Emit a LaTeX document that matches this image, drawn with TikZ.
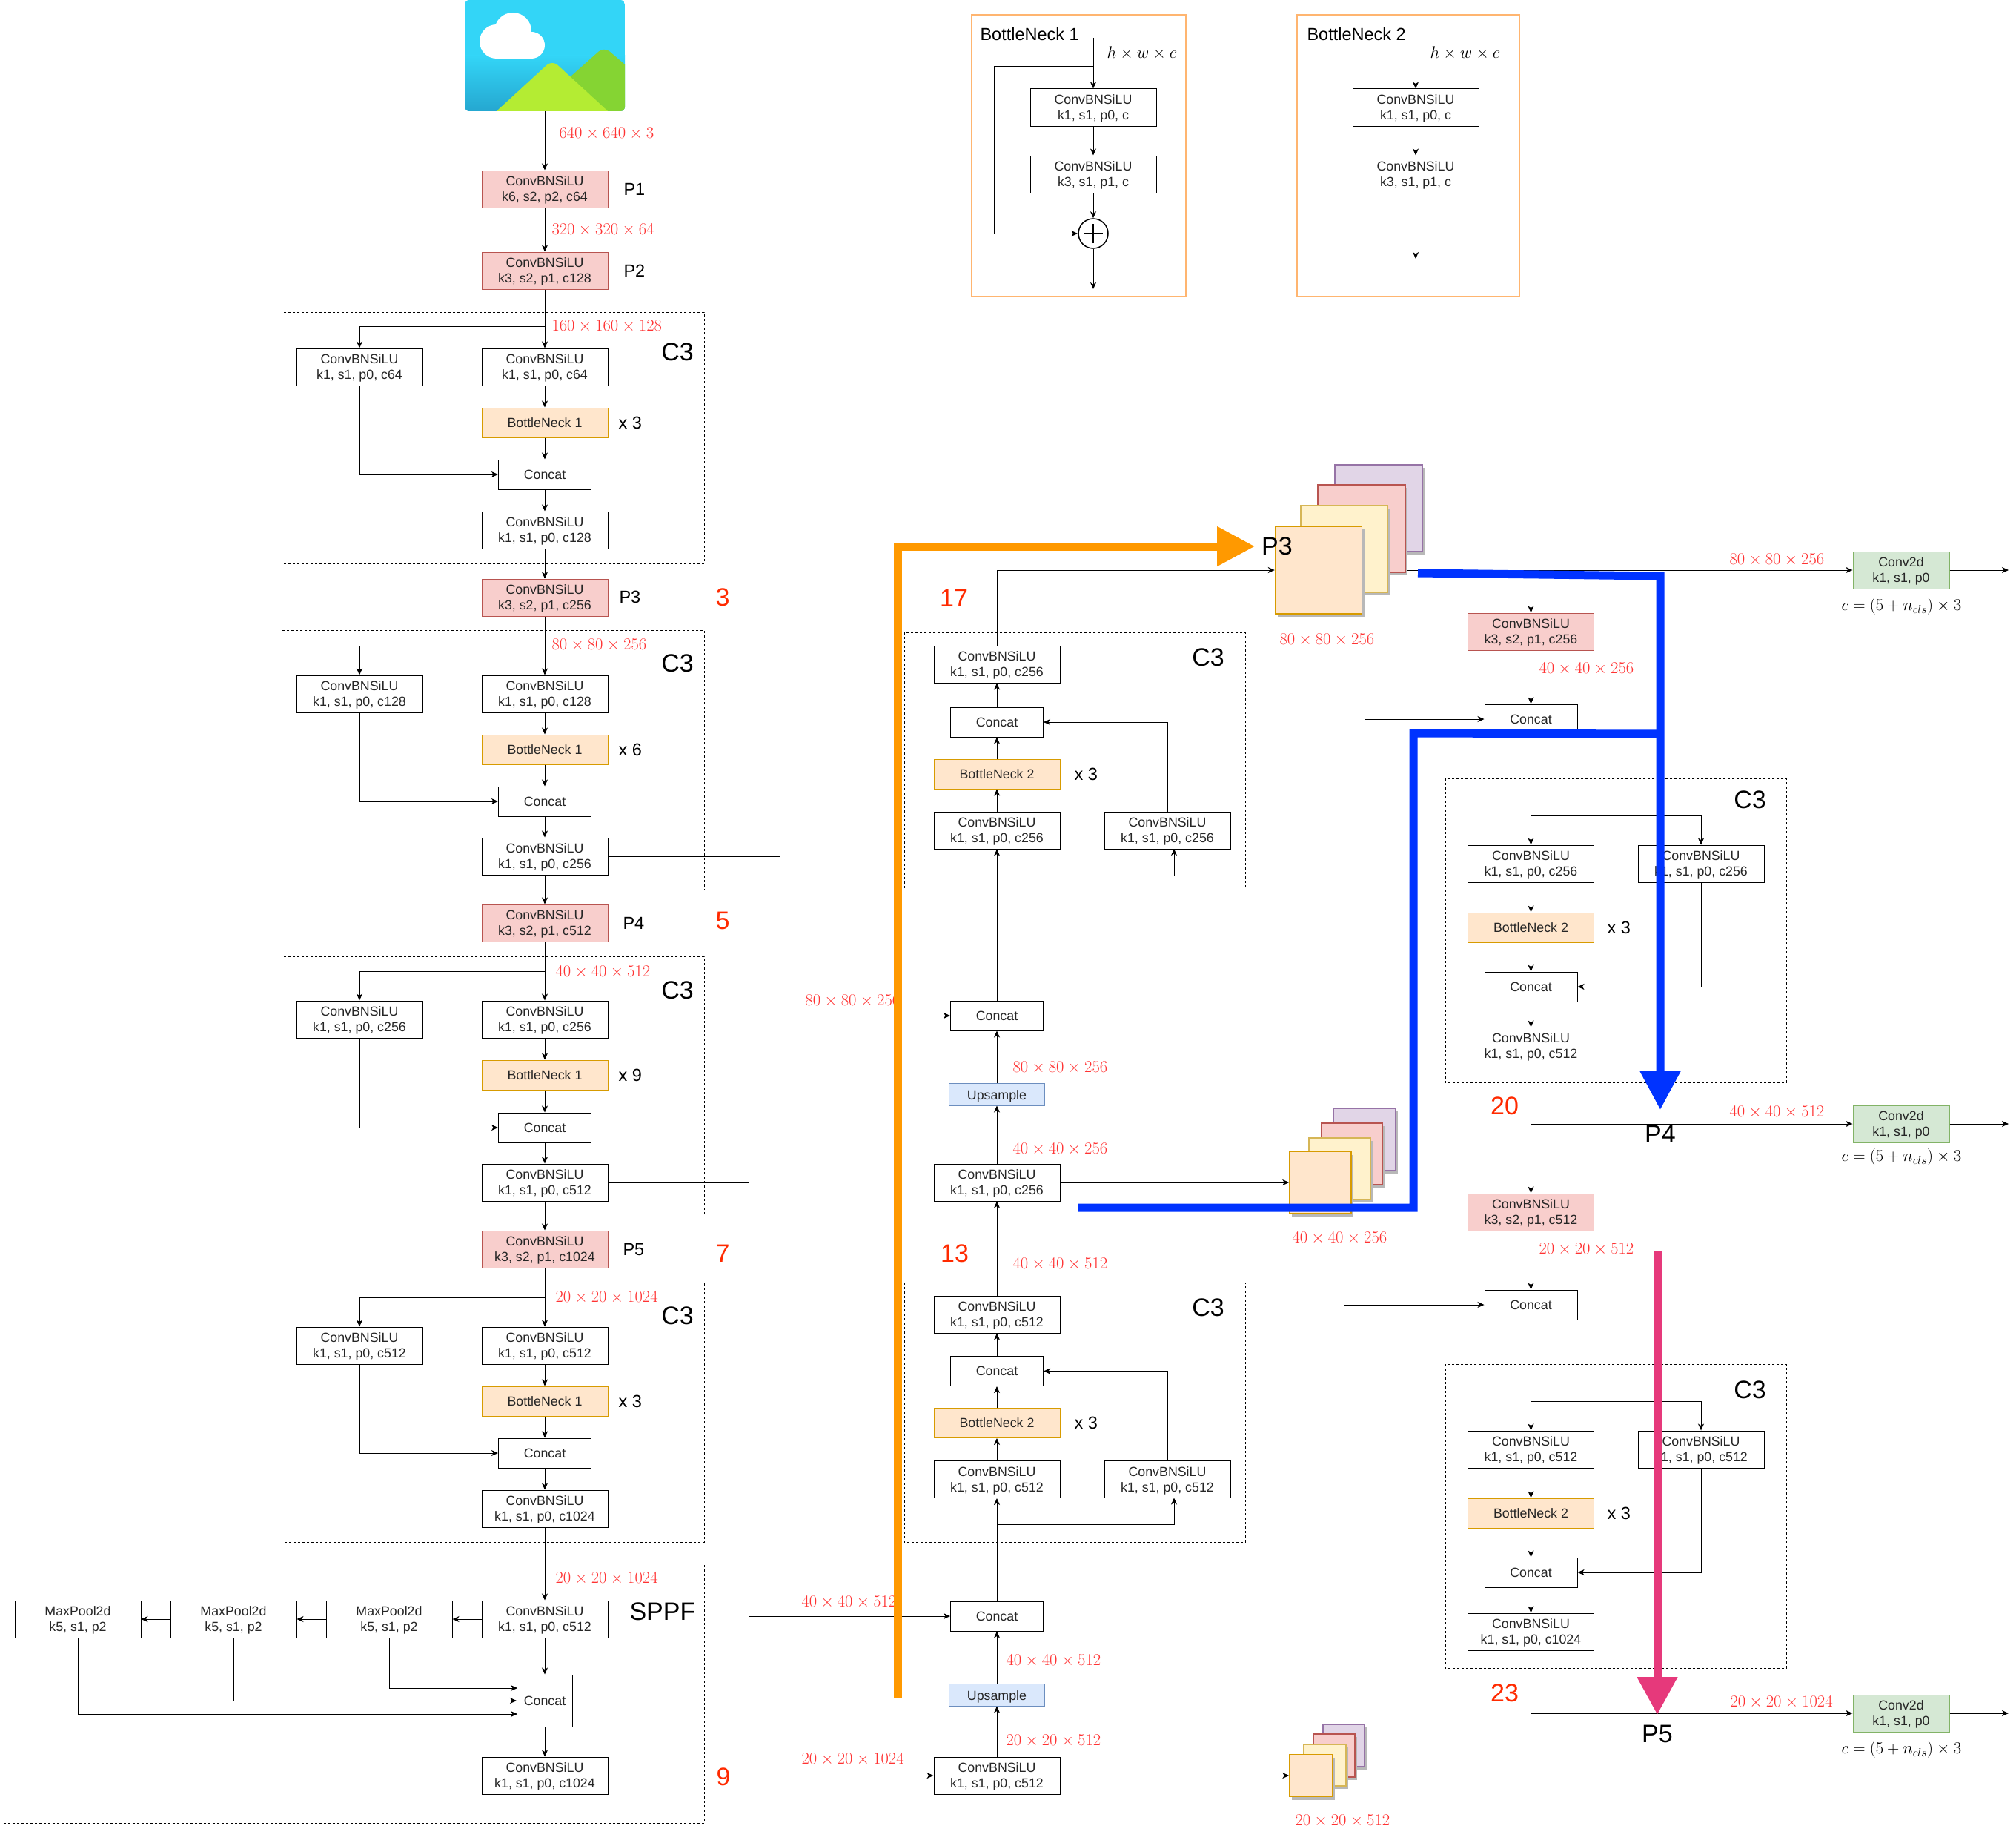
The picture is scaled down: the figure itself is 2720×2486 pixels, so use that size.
\documentclass[tikz,border=0pt]{standalone}
\usepackage{fix-cm}
\usepackage[no-math]{fontspec}
\setmainfont{Liberation Sans}
\usetikzlibrary{arrows.meta,shadows}
\definecolor{dimred}{HTML}{FF3333}
\definecolor{tagred}{HTML}{FF2A00}
\definecolor{bandorange}{HTML}{FF9900}
\definecolor{bandblue}{HTML}{0033FF}
\definecolor{bandpink}{HTML}{E6397B}
\definecolor{panelline}{HTML}{FFB570}
\definecolor{skytop}{HTML}{33D5F7}
\definecolor{skybot}{HTML}{25A7D0}
\definecolor{hilldark}{HTML}{85D433}
\definecolor{hilllight}{HTML}{B4EC33}
\definecolor{redfill}{HTML}{F8CECC}
\definecolor{redline}{HTML}{B85450}
\definecolor{orfill}{HTML}{FFE6CC}
\definecolor{orline}{HTML}{D79B00}
\definecolor{blfill}{HTML}{DAE8FC}
\definecolor{blline}{HTML}{6C8EBF}
\definecolor{grfill}{HTML}{D5E8D4}
\definecolor{grline}{HTML}{82B366}
\definecolor{pufill}{HTML}{E1D5E7}
\definecolor{puline}{HTML}{9673A6}
\definecolor{yefill}{HTML}{FFF2CC}
\definecolor{yeline}{HTML}{D6B656}

\begin{document}
\begin{tikzpicture}[x=1pt,y=-1pt,line width=1pt]
  \useasboundingbox (0,0) rectangle (2720,2486);
  \tikzstyle{arr}=[-{Stealth[length=9pt,width=8pt,inset=2.5pt]}]
  \tikzstyle{cell}=[draw,inner sep=0pt,align=center,minimum width=170pt,minimum height=50pt,text=black!85,font=\fontsize{17.8}{21}\selectfont]
  \tikzstyle{box}=[cell,text height=37.5pt]
  \tikzstyle{down box}=[box,fill=redfill,draw=redline]
  \tikzstyle{neck}=[cell,minimum height=40pt,fill=orfill,draw=orline]
  \tikzstyle{concat}=[cell,minimum width=125pt,minimum height=40pt]
  \tikzstyle{upsample}=[cell,minimum width=129pt,minimum height=30pt,fill=blfill,draw=blline,execute at begin node={\rule{0pt}{18pt}}]
  \tikzstyle{head}=[box,minimum width=130pt,fill=grfill,draw=grline]
  \tikzstyle{dim}=[text=dimred,anchor=west,inner sep=0pt,yshift=-1pt,font=\fontsize{22.6}{27}\selectfont]
  \tikzstyle{formula}=[dim,text=black]
  \tikzstyle{tagnum}=[text=tagred,inner sep=0pt,font=\fontsize{34}{40}\selectfont]
  \tikzstyle{stage}=[anchor=west,inner sep=0pt,font=\fontsize{23.5}{28}\selectfont]
  \tikzstyle{block}=[inner sep=0pt,font=\fontsize{34}{40}\selectfont]
  \tikzstyle{c3 frame}=[dash pattern=on 3pt off 3pt]
  \tikzstyle{panel}=[draw=panelline,line width=2pt]
  \tikzstyle{fmap}=[inner sep=0pt,line width=1.5pt,drop shadow={shadow xshift=3pt,shadow yshift=-4pt,fill=black!28,opacity=1}]
  \tikzstyle{layer a}=[fmap,fill=pufill,draw=puline]
  \tikzstyle{layer b}=[fmap,fill=redfill,draw=redline]
  \tikzstyle{layer c}=[fmap,fill=yefill,draw=yeline]
  \tikzstyle{layer d}=[fmap,fill=orfill,draw=orline]
  \tikzstyle{band}=[line width=11pt]

  % Input picture
  \node[minimum width=216pt,minimum height=150pt,inner sep=0pt] (photo) at (735,75) {};
  \begin{scope}
    \clip[rounded corners=6pt] (627,0) rectangle (843,150);
    \fill[skytop] (627,0) rectangle (843,75);
    \shade[top color=skytop,bottom color=skybot] (627,75) rectangle (843,150);
    \fill[white] (670,56) circle (23pt) (692,42) circle (25pt) (717,61) circle (18pt);
    \fill[white] (670,50) rectangle (717,79);
    \fill[hilldark,rounded corners=10pt] (760,112) -- (815,63) -- (850,93) -- (850,160) -- (760,160) -- cycle;
    \fill[hilllight,rounded corners=10pt] (659,160) -- (745,81) -- (831,160) -- cycle;
  \end{scope}

  % Backbone stages
  \foreach \name/\y/\txt in {P1/255/{k6, s2, p2, c64},P2/365/{k3, s2, p1, c128},P3/806/{k3, s2, p1, c256},P4/1245/{k3, s2, p1, c512},P5/1685/{k3, s2, p1, c1024}}
  \node[down box] (\name) at (735,\y) {ConvBNSiLU\\\txt};

  \node[stage] (lp1) at (841,255) {P1};
  \node[stage] (lp2) at (841,365) {P2};
  \node[stage] (lp3) at (835,805) {P3};
  \node[stage] (lp4) at (840,1245) {P4};
  \node[stage] (lp5) at (840,1686) {P5};

  % Backbone C3 blocks
  \foreach \i/\ysp/\yconv/\ybn/\ycat/\yout/\ytop/\ybot/\yc/\cin/\cout/\rep in {
    1/440/495/570/640/715/421/760/475/64/128/3,
    2/871/936/1011/1081/1155/850/1200/895/128/256/6,
    3/1310/1375/1450/1521/1595/1290/1641/1336/256/512/9,
    4/1750/1815/1890/1960/2035/1730/2080/1775/512/1024/3}
  {
    \draw[c3 frame] (380,\ytop) rectangle (950,\ybot);
    \coordinate (split\i) at (735,\ysp);
    \node[box] (side\i) at (485,\yconv) {ConvBNSiLU\\k1, s1, p0, c\cin};
    \node[box] (conv\i) at (735,\yconv) {ConvBNSiLU\\k1, s1, p0, c\cin};
    \node[neck] (bn\i) at (735,\ybn) {BottleNeck 1};
    \node[concat] (cat\i) at (735,\ycat) {Concat};
    \node[box] (out\i) at (735,\yout) {ConvBNSiLU\\k1, s1, p0, c\cout};
    \node[stage] (rep\i) at (834,\ybn) {x \rep};
    \node[block] (cname\i) at (914,\yc) {C3};
  }

  % SPPF block
  \draw[c3 frame] (1,2109) rectangle (950,2459);
  \node[box] (sp0) at (735,2184) {ConvBNSiLU\\k1, s1, p0, c512};
  \node[box] (sp1) at (525,2184) {MaxPool2d\\k5, s1, p2};
  \node[box] (sp2) at (315,2184) {MaxPool2d\\k5, s1, p2};
  \node[box] (sp3) at (105,2184) {MaxPool2d\\k5, s1, p2};
  \node[concat,minimum width=75pt,minimum height=70pt] (spcat) at (735,2294) {Concat};
  \node[box] (spout) at (735,2395) {ConvBNSiLU\\k1, s1, p0, c1024};
  \node[block,anchor=west] (spname) at (849,2174) {SPPF};
  \coordinate (in1) at (698,2277);
  \coordinate (in3) at (698,2312);

  % Connect the backbone
  \draw[arr] (photo.south) -- (P1.north);
  \draw[arr] (P1.south) -- (P2.north);
  \foreach \i/\prev/\next in {1/P2/P3,2/P3/P4,3/P4/P5,4/P5/sp0}
  {
    \draw[arr] (\prev.south) -- (conv\i.north);
    \draw[arr] (split\i) -| (side\i.north);
    \draw[arr] (conv\i.south) -- (bn\i.north);
    \draw[arr] (bn\i.south) -- (cat\i.north);
    \draw[arr] (cat\i.south) -- (out\i.north);
    \draw[arr] (out\i.south) -- (\next.north);
    \draw[arr] (side\i.south) |- (cat\i.west);
  }
  \draw[arr] (sp0.west) -- (sp1.east);
  \draw[arr] (sp1.west) -- (sp2.east);
  \draw[arr] (sp2.west) -- (sp3.east);
  \draw[arr] (sp0.south) -- (spcat.north);
  \draw[arr] (spcat.south) -- (spout.north);
  \draw[arr] (sp1.south) |- (in1);
  \draw[arr] (sp2.south) |- (spcat.west);
  \draw[arr] (sp3.south) |- (in3);

  % Neck, upward path
  \foreach \i/\dy/\dz/\ybot/\ch in {1/0/0/1200/256,2/877/875.5/2080/512}
  {
    \draw[c3 frame] (1220,{853+\dy}) rectangle (1680,\ybot);
    \node[box] (ntop\i) at (1345,{896+\dy}) {ConvBNSiLU\\k1, s1, p0, c\ch};
    \node[concat] (ncat\i) at (1345,{974+\dz}) {Concat};
    \node[neck] (nbn\i) at (1345,{1044+\dz}) {BottleNeck 2};
    \node[box] (nleft\i) at (1345,{1120+\dz}) {ConvBNSiLU\\k1, s1, p0, c\ch};
    \node[box] (nright\i) at (1575,{1120+\dz}) {ConvBNSiLU\\k1, s1, p0, c\ch};
    \node[stage] (nrep\i) at (1449,{1044+\dz}) {x 3};
    \node[block] (nname\i) at (1630,{887+\dy}) {C3};
    \coordinate (nsplit\i) at (1345,{1181+\dz});
    \coordinate (ntap\i) at (1584,{1145+\dz});
    \draw[arr] (nsplit\i) -| (ntap\i);
    \draw[arr] (nleft\i.north) -- (nbn\i.south);
    \draw[arr] (nbn\i.north) -- (ncat\i.south);
    \draw[arr] (ncat\i.north) -- (ntop\i.south);
    \draw[arr] (nright\i.north) |- (ncat\i.east);
  }

  \node[concat] (up1cat) at (1345,1370) {Concat};
  \node[upsample] (up1) at (1345,1476) {Upsample};
  \node[box] (reduce1) at (1345,1595) {ConvBNSiLU\\k1, s1, p0, c256};
  \node[concat] (up2cat) at (1345,2180) {Concat};
  \node[upsample] (up2) at (1345,2286) {Upsample};
  \node[box] (reduce2) at (1345,2395) {ConvBNSiLU\\k1, s1, p0, c512};

  \coordinate (bend1) at (1052,1370);
  \coordinate (bend2) at (1010,2180);
  \draw (out2.east) -| (bend1);
  \draw[arr] (bend1) -- (up1cat.west);
  \draw (out3.east) -| (bend2);
  \draw[arr] (bend2) -- (up2cat.west);
  \draw[arr] (spout.east) -- (reduce2.west);
  \draw[arr] (reduce2.north) -- (up2.south);
  \draw[arr] (up2.north) -- (up2cat.south);
  \draw[arr] (up2cat.north) -- (nleft2.south);
  \draw[arr] (ntop2.north) -- (reduce1.south);
  \draw[arr] (reduce1.north) -- (up1.south);
  \draw[arr] (up1.north) -- (up1cat.south);
  \draw[arr] (up1cat.north) -- (nleft1.south);

  % Detection heads
  \node[head] (det1) at (2565,769) {Conv2d\\k1, s1, p0};
  \node[head] (det2) at (2565,1516) {Conv2d\\k1, s1, p0};
  \node[head] (det3) at (2565,2311) {Conv2d\\k1, s1, p0};
  \foreach \i/\y in {1/769,2/1516,3/2311}
  {
    \coordinate (exit\i) at (2710,\y);
    \draw[arr] (det\i.east) -- (exit\i);
  }

  % Neck, downward path
  \foreach \i/\dy/\ytop/\yc/\ch/\cc in {1/0/970/1079/256/512,2/790/1760/1875/512/1024}
  {
    \draw[c3 frame] (1950,{1050+\dy}) rectangle (2410,{1460+\dy});
    \coordinate (rsplit\i) at (2065.5,{1100+\dy});
    \node[concat] (rtop\i) at (2065.5,\ytop) {Concat};
    \node[box] (rleft\i) at (2065.5,{1165+\dy}) {ConvBNSiLU\\k1, s1, p0, c\ch};
    \node[box] (rright\i) at (2295,{1165+\dy}) {ConvBNSiLU\\k1, s1, p0, c\ch};
    \node[neck] (rbn\i) at (2065.5,{1251+\dy}) {BottleNeck 2};
    \node[concat] (rcat\i) at (2065.5,{1331+\dy}) {Concat};
    \node[box] (rout\i) at (2065.5,{1411+\dy}) {ConvBNSiLU\\k1, s1, p0, c\cc};
    \node[stage] (rrep\i) at (2168,{1251+\dy}) {x 3};
    \node[block] (rname\i) at (2361,\yc) {C3};
    \draw[arr] (rtop\i.south) -- (rleft\i.north);
    \draw[arr] (rsplit\i) -| (rright\i.north);
    \draw[arr] (rleft\i.south) -- (rbn\i.north);
    \draw[arr] (rbn\i.south) -- (rcat\i.north);
    \draw[arr] (rcat\i.south) -- (rout\i.north);
    \draw[arr] (rright\i.south) |- (rcat\i.east);
  }
  \node[down box] (rdown1) at (2065.5,852) {ConvBNSiLU\\k3, s2, p1, c256};
  \node[down box] (rdown2) at (2065.5,1635) {ConvBNSiLU\\k3, s2, p1, c512};
  \coordinate (rtap1) at (2065.5,769);
  \coordinate (rtap2) at (2065.5,1516);
  \draw[arr] (rtap1) -- (rdown1.north);
  \draw[arr] (rdown1.south) -- (rtop1.north);
  \draw[arr] (rout1.south) -- (rdown2.north);
  \draw[arr] (rtap2) -- (det2.west);
  \draw[arr] (rdown2.south) -- (rtop2.north);
  \draw[arr] (rout2.south) |- (det3.west);

  % Feature map stacks
  \coordinate (sout) at (1720,769);
  \draw[arr] (sout) -- (det1.west);
  \foreach \name/\x/\y/\w/\h/\sty in {
    sa/1860/685.5/118/117/layer a,sb/1837/713/118/118/layer b,sc/1813.5/740.5/117/117/layer c,sd/1779/769/117/118/layer d,
    ma/1841/1537/84/84/layer a,mb/1824/1556.5/83/83/layer b,mc/1807.5/1576.5/83/83/layer c,md/1781.5/1595/83/83/layer d,
    la/1813/2354.5/56/57/layer a,lb/1800/2368/56/58/layer b,lc/1787.5/2381/57/56/layer c,ld/1769/2395/58/57/layer d}
  \node[\sty,minimum width=\w pt,minimum height=\h pt] (\name) at (\x,\y) {};

  \draw[arr] (ntop1.north) |- (sd.west);
  \draw[arr] (reduce1.east) -- (md.west);
  \draw[arr] (reduce2.east) -- (ld.west);
  \draw[arr] (ma.north) |- (rtop1.west);
  \draw[arr] (la.north) |- (rtop2.west);

  % Sizes
  \node[dim] (d1) at (754,179) {$640\times 640\times 3$};
  \node[dim] (d2) at (744,309) {$320\times 320\times 64$};
  \node[dim] (d3) at (744,439) {$160\times 160\times 128$};
  \node[dim] (d4) at (744,869) {$80\times 80\times 256$};
  \node[dim] (d5) at (749,1310) {$40\times 40\times 512$};
  \node[dim] (d6) at (749,1749) {$20\times 20\times 1024$};
  \node[dim] (d7) at (749,2128) {$20\times 20\times 1024$};
  \node[dim] (d8) at (1086,1349) {$80\times 80\times 256$};
  \node[dim] (d9) at (1081,2160) {$40\times 40\times 512$};
  \node[dim] (d10) at (1081,2372) {$20\times 20\times 1024$};
  \node[dim] (d11) at (1366,1439) {$80\times 80\times 256$};
  \node[dim] (d12) at (1366,1549) {$40\times 40\times 256$};
  \node[dim] (d13) at (1366,1704) {$40\times 40\times 512$};
  \node[dim] (d14) at (1357,2239) {$40\times 40\times 512$};
  \node[dim] (d15) at (1357,2347) {$20\times 20\times 512$};
  \node[dim] (d16) at (1726,862) {$80\times 80\times 256$};
  \node[dim] (d17) at (1743,1669) {$40\times 40\times 256$};
  \node[dim] (d18) at (1747,2455) {$20\times 20\times 512$};
  \node[dim] (d19) at (2076,901) {$40\times 40\times 256$};
  \node[dim] (d20) at (2076,1684) {$20\times 20\times 512$};
  \node[dim] (d21) at (2333,754) {$80\times 80\times 256$};
  \node[dim] (d22) at (2333,1499) {$40\times 40\times 512$};
  \node[dim] (d23) at (2334,2295) {$20\times 20\times 1024$};
  \foreach \name/\y in {f1/817,f2/1560,f3/2359}
  \node[formula] (\name) at (2484,\y) {$c=\left(5+n_{cls}\right)\times 3$};

  % Layer numbers
  \node[tagnum] (t3) at (975,806) {3};
  \node[tagnum] (t5) at (975,1242) {5};
  \node[tagnum] (t7) at (975,1691) {7};
  \node[tagnum] (t9) at (976,2397) {9};
  \node[tagnum] (t17) at (1287,807) {17};
  \node[tagnum] (t13) at (1288,1691) {13};
  \node[tagnum] (t20) at (2030,1492) {20};
  \node[tagnum] (t23) at (2030,2284) {23};

  % BottleNeck panels
  \draw[panel] (1311,20) rectangle (1600,400);
  \node[stage] (bn1t) at (1322,46) {BottleNeck 1};
  \coordinate (bn1i) at (1475,51);
  \coordinate (bn1s) at (1475,90);
  \coordinate (bn1e) at (1475,390);
  \node[box] (bn1a) at (1475,145) {ConvBNSiLU\\k1, s1, p0, c};
  \node[box] (bn1b) at (1475,235) {ConvBNSiLU\\k3, s1, p1, c};
  \node[draw,circle,minimum size=40pt,inner sep=0pt,line width=1.5pt,path picture={
    \draw ([xshift=-13pt]path picture bounding box.center) -- ([xshift=13pt]path picture bounding box.center);
    \draw ([yshift=-13pt]path picture bounding box.center) -- ([yshift=13pt]path picture bounding box.center);}] (bn1p) at (1475,315) {};
  \node[formula] (bn1m) at (1493,71) {$h\times w\times c$};
  \coordinate (bn1l) at (1341,90);
  \draw[arr] (bn1i) -- (bn1a.north);
  \draw[arr] (bn1a.south) -- (bn1b.north);
  \draw[arr] (bn1b.south) -- (bn1p.north);
  \draw[arr] (bn1p.south) -- (bn1e);
  \draw (bn1s) -- (bn1l);
  \draw[arr] (bn1l) |- (bn1p.west);

  \draw[panel] (1750,20) rectangle (2050,400);
  \node[stage] (bn2t) at (1763,46) {BottleNeck 2};
  \coordinate (bn2i) at (1910,51);
  \coordinate (bn2e) at (1910,349);
  \node[box] (bn2a) at (1910,145) {ConvBNSiLU\\k1, s1, p0, c};
  \node[box] (bn2b) at (1910,235) {ConvBNSiLU\\k3, s1, p1, c};
  \node[formula] (bn2m) at (1929,71) {$h\times w\times c$};
  \draw[arr] (bn2i) -- (bn2a.north);
  \draw[arr] (bn2a.south) -- (bn2b.north);
  \draw[arr] (bn2b.south) -- (bn2e);

  % Heavy marker arrows
  \coordinate (o0) at (1211,2290);
  \coordinate (o1) at (1211,737);
  \coordinate (o2) at (1693,737);
  \draw[band,draw=bandorange,-{Triangle[length=51pt,width=51pt]}] (o0) -- (o1) -- (o2);
  \coordinate (b0) at (1913,773);
  \coordinate (b1) at (2240,777);
  \coordinate (b2) at (2240,1497);
  \draw[band,draw=bandblue,-{Triangle[length=52pt,width=52pt]}] (b0) -- (b1) -- (b2);
  \coordinate (b3) at (2240,990);
  \coordinate (b4) at (1907,989);
  \coordinate (b5) at (1907,1629);
  \coordinate (b6) at (1454,1629);
  \draw[band,draw=bandblue] (b3) -- (b4) -- (b5) -- (b6);
  \coordinate (k0) at (2236,1688);
  \coordinate (k1) at (2236,2313);
  \draw[band,draw=bandpink,-{Triangle[length=51pt,width=52pt]}] (k0) -- (k1);

  \node[block] (bp3) at (1723,737) {P3};
  \node[block] (bp4) at (2240,1530) {P4};
  \node[block] (bp5) at (2236,2339) {P5};
\end{tikzpicture}
\end{document}
